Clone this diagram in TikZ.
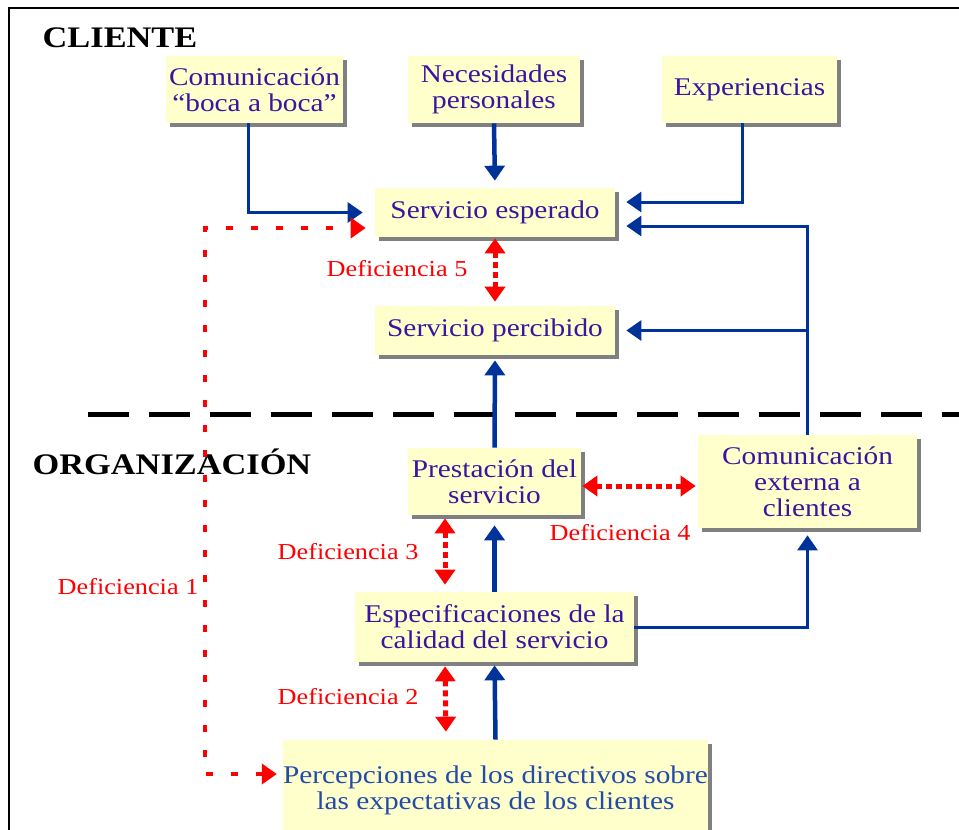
\documentclass[tikz,border=0pt]{standalone}
\usepackage{fontspec}
\setmainfont{Liberation Serif}[FakeStretch=1.15]
\usetikzlibrary{arrows.meta}
\usetikzlibrary{calc}
\usetikzlibrary{shadows}
\definecolor{boxfill}{RGB}{255,255,204}
\definecolor{boxtext}{RGB}{60,20,160}
\definecolor{dirtext}{RGB}{35,75,170}
\definecolor{linkblue}{RGB}{0,51,153}

\begin{document}
\begin{tikzpicture}[
        x=0.02cm, y=-0.02cm,
        box/.style={fill=boxfill, text=boxtext, align=center, inner sep=0,
            font=\fontsize{14.5}{14.8}\selectfont,
            drop shadow={shadow xshift=0.08cm, shadow yshift=-0.08cm, fill=black!50, opacity=1}},
        title/.style={font=\fontsize{17}{20}\selectfont\bfseries, text=black},
        gaplabel/.style={font=\fontsize{13}{15}\selectfont, text=red},
        link/.style={->, draw=linkblue, line width=0.06cm},
        mainlink/.style={->, draw=linkblue, line width=0.09cm},
        gap/.style={<->, draw=red, line width=0.1cm, dash pattern=on 0.12cm off 0.08cm},
        gapline/.style={<->, draw=red, line width=0.08cm, dash pattern=on 0.14cm off 0.36cm},
        >={Triangle[width=0.4cm,length=0.3cm]}
    ]
        \useasboundingbox (0,0) rectangle (959,829);

        % marco y separacion cliente / organizacion
        \draw[line width=0.04cm] (9,8) rectangle (1000,900);
        \draw[line width=0.1cm, dash pattern=on 0.82cm off 0.4cm] (88,414) -- (965,414);

        \node[title] (cliente) at (120,38) {CLIENTE};
        \node[title] (org) at (172,462) {ORGANIZACIÓN};

        % cajas
        \node[box, minimum width=3.54cm, minimum height=1.34cm] (boca) at (254.5,89.5) {Comunicación\\``boca a boca''};
        \node[box, minimum width=3.44cm, minimum height=1.34cm] (nec) at (494,89.5) {Necesidades\\personales};
        \node[box, minimum width=3.5cm, minimum height=1.34cm] (exp) at (749.5,89.5) {Experiencias};
        \node[box, minimum width=4.8cm, minimum height=0.98cm] (esp) at (495,212.5) {Servicio esperado};
        \node[box, minimum width=4.8cm, minimum height=0.98cm] (perc) at (495,330.5) {Servicio percibido};
        \node[box, minimum width=3.46cm, minimum height=1.34cm] (prest) at (494.5,481.5) {Prestación del\\servicio};
        \node[box, minimum width=4.38cm, minimum height=1.86cm] (ext) at (807.5,481.5) {Comunicación\\externa a\\clientes};
        \node[box, minimum width=5.58cm, minimum height=1.4cm] (espec) at (494.5,627) {Especificaciones de la\\calidad del servicio};
        \node[box, text=dirtext, minimum width=8.46cm, minimum height=2.0cm] (dir) at (495.5,790) {Percepciones de los directivos sobre\\las expectativas de los clientes};

        % flechas azules
        \draw[link, shorten >=0.24cm] ([xshift=-0.13cm]boca.south) |- (esp.west);
        \draw[mainlink, shorten >=0.14cm] (nec.south) -- (esp.north);
        \draw[link, shorten >=0.22cm] ([xshift=-0.15cm]exp.south) |- ([yshift=0.21cm]esp.east);
        \draw[link, shorten >=0.22cm] (ext.north) |- ([yshift=-0.27cm]esp.east);
        \draw[link, shorten >=0.22cm] (ext.north) |- (perc.east);
        \draw[mainlink, shorten >=0.1cm] (prest.north) -- (perc.south);
        \draw[mainlink, shorten >=0.2cm] (espec.north) -- (prest.south);
        \draw[mainlink, shorten >=0.06cm] (dir.north) -- (espec.south);
        \draw[link, shorten >=0.14cm] (espec.east) -| (ext.south);

        % deficiencias
        \draw[gap, shorten <=0.02cm, shorten >=0.08cm] (esp.south) -- (perc.north);
        \draw[gap, shorten <=0.06cm, shorten >=0.14cm] ($(prest.south)+(-49.5,0)$) -- ($(espec.north)+(-49.5,0)$);
        \draw[gap, shorten <=0.08cm, shorten >=0.16cm] ($(espec.south)+(-49.5,0)$) -- ($(dir.north)+(-49.5,0)$);
        \draw[gap, shorten <=0.02cm, shorten >=0.04cm] ([yshift=-0.09cm]prest.east) -- ([yshift=-0.09cm]ext.west);
        \coordinate (d1turn) at (205,500);
        \draw[gapline, shorten <=0.12cm, shorten >=0.18cm] ([yshift=0.32cm]dir.west) -| (d1turn) |- ([yshift=-0.31cm]esp.west);

        \foreach \n/\x/\y in {5/397/269, 1/128/587, 3/348/552, 2/348/697, 4/620/533} {
            \node[gaplabel] (def\n) at (\x,\y) {Deficiencia \n};
        }

    \end{tikzpicture}
\end{document}
